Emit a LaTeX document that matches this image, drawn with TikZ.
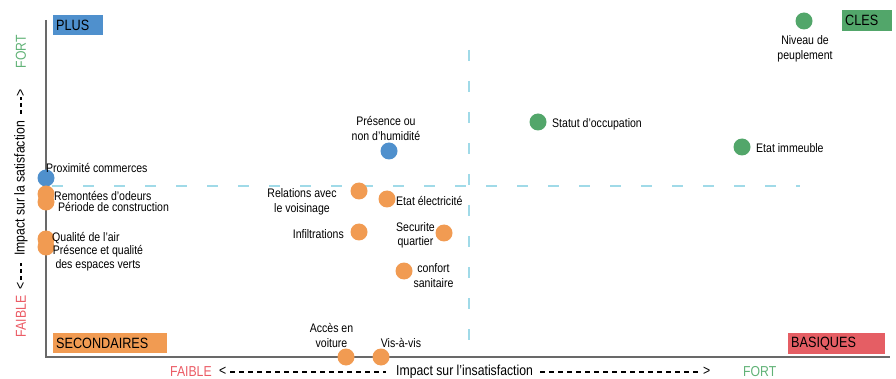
\documentclass[tikz,border=0pt]{standalone}
\usepackage{fontspec}
\setmainfont{Liberation Sans}[FakeStretch=0.85]
\definecolor{cblue}{RGB}{79,144,205}
\definecolor{cgreen}{RGB}{82,166,106}
\definecolor{corange}{RGB}{241,155,82}
\definecolor{cred}{RGB}{229,94,100}
\definecolor{tred}{RGB}{235,90,100}
\definecolor{tgreen}{RGB}{96,178,118}
\definecolor{cdash}{RGB}{160,218,232}
\definecolor{caxis}{RGB}{105,105,105}
\tikzset{
  dot/.style={circle,minimum size=17pt,inner sep=0pt,draw=none},
  lbl/.style={font=\fontsize{12.4}{14.5}\selectfont,inner sep=0pt,text=black},
  quadbox/.style={anchor=north west,inner xsep=3pt,inner ysep=0pt,minimum height=20pt,align=left,font=\fontsize{14.9}{16}\selectfont,text=black},
  axlbl/.style={font=\fontsize{14.4}{16}\selectfont,inner sep=0pt,text=black},
  guide/.style={cdash,line width=1.1pt,dash pattern=on 11pt off 20pt},
  axisline/.style={caxis,line width=1.8pt},
  axdash/.style={black,line width=1.6pt,dash pattern=on 5pt off 4pt},
  axdashv/.style={black,line width=1.6pt,dash pattern=on 4pt off 3pt}
}
\begin{document}
\begin{tikzpicture}[x=1pt,y=-1pt]
\useasboundingbox (0,0) rectangle (896,379);
% guides
\coordinate (h1) at (52,186);
\coordinate (h2) at (800,186);
\coordinate (v1) at (469,50);
\coordinate (v2) at (469,340);
\draw[guide] (h1) -- (h2);
\draw[guide] (v1) -- (v2);
% axes
\coordinate (ytop) at (46,20);
\coordinate (o) at (46,357);
\coordinate (xend) at (890,357);
\draw[axisline] (ytop) -- (o) -- (xend);
% quadrant boxes
\node[quadbox,fill=cblue,text width=44pt] (plus) at (53,15) {PLUS};
\node[quadbox,fill=cgreen,text width=44pt,minimum height=21pt] (cles) at (842,10) {CLES};
\node[quadbox,fill=corange,text width=108pt] (sec) at (53,333) {SECONDAIRES};
\node[quadbox,fill=cred,text width=91pt,minimum height=21pt] (bas) at (788,333) {BASIQUES};
% dots
\node[dot,fill=cgreen] (niv) at (804,21) {};
\node[dot,fill=cgreen] (stat) at (538,122) {};
\node[dot,fill=cgreen] (etimm) at (742,147) {};
\node[dot,fill=cblue] (hum) at (389,151) {};
\node[dot,fill=cblue] (prox) at (46,178) {};
\node[dot,fill=corange] (rem) at (46,194) {};
\node[dot,fill=corange] (per) at (46,202) {};
\node[dot,fill=corange] (qual) at (46,239) {};
\node[dot,fill=corange] (pres) at (46,247) {};
\node[dot,fill=corange] (rel) at (359,191) {};
\node[dot,fill=corange] (elec) at (387,199) {};
\node[dot,fill=corange] (inf) at (359,232) {};
\node[dot,fill=corange] (secu) at (444,233) {};
\node[dot,fill=corange] (conf) at (404,271) {};
\node[dot,fill=corange] (acc) at (346,357) {};
\node[dot,fill=corange] (vis) at (381,357) {};
% labels
\node[lbl,align=center] (nivl) at (805,49) {Niveau de\\peuplement};
\node[lbl,anchor=west] (statl) at (552,124) {Statut d'occupation};
\node[lbl,anchor=west] (etimml) at (756,148) {Etat immeuble};
\node[lbl,align=center] (huml) at (386,128.5) {Présence ou\\non d'humidité};
\node[lbl,anchor=west] (proxl) at (46,168) {Proximité commerces};
\node[lbl,anchor=west] (reml) at (54,196) {Remontées d'odeurs};
\node[lbl,anchor=west] (perl) at (58,207) {Période de construction};
\node[lbl,anchor=west] (quall) at (52,238) {Qualité de l'air};
\node[lbl,align=center] (presl) at (98,258) {Présence et qualité\\des espaces verts};
\node[lbl,align=center] (rell) at (302,202) {Relations avec\\le voisinage};
\node[lbl,anchor=west] (elecl) at (396,200.5) {Etat électricité};
\node[lbl,anchor=east] (infl) at (344,234) {Infiltrations};
\node[lbl,align=center] (secul) at (415.5,235.5) {Securite\\quartier};
\node[lbl,align=center] (confl) at (433.5,275.5) {confort\\sanitaire};
\node[lbl,align=center] (accl) at (331.5,335.5) {Accès en\\voiture};
\node[lbl] (visl) at (401,342.5) {Vis-à-vis};
% bottom axis title
\node[axlbl,text=tred,anchor=west] (xfaible) at (170,371.5) {FAIBLE};
\node[axlbl,anchor=west] (xlt) at (219,371.5) {<};
\node[axlbl,anchor=west] (xtitle) at (396,371.5) {Impact sur l'insatisfaction};
\node[axlbl,anchor=west] (xgt) at (703,371.5) {>};
\node[axlbl,text=tgreen,anchor=west] (xfort) at (743,371.5) {FORT};
\coordinate (xd1) at (230,372);
\coordinate (xd2) at (386,372);
\coordinate (xd3) at (540,372);
\coordinate (xd4) at (698,372);
\draw[axdash] (xd1) -- (xd2);
\draw[axdash] (xd3) -- (xd4);
% left axis title
\node[axlbl,text=tred,rotate=90] (yfaible) at (21,316.5) {FAIBLE};
\node[axlbl,rotate=90] (ylt) at (21,285.5) {<};
\node[axlbl,rotate=90] (ytitle) at (21,188.5) {Impact sur la satisfaction};
\node[axlbl,rotate=90] (ygt) at (21,92.5) {>};
\node[axlbl,text=tgreen,rotate=90] (yfort) at (21,51.5) {FORT};
\coordinate (yd1) at (21,280);
\coordinate (yd2) at (21,263);
\coordinate (yd3) at (21,114);
\coordinate (yd4) at (21,97);
\draw[axdashv] (yd1) -- (yd2);
\draw[axdashv] (yd3) -- (yd4);
\end{tikzpicture}
\end{document}
